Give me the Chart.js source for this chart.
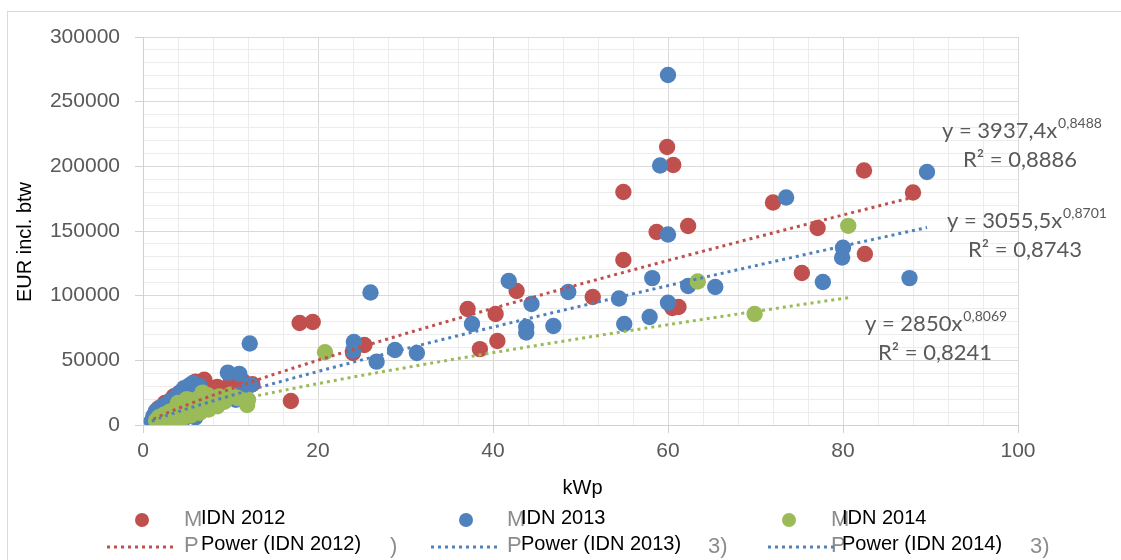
<!DOCTYPE html>
<html>
<head>
<meta charset="utf-8">
<script src="https://cdn.jsdelivr.net/npm/chart.js@4.4.1/dist/chart.umd.min.js"></script>
<style>
  html, body { margin: 0; padding: 0; background: #ffffff; }
  #wrap { width: 1121px; height: 560px; }
</style>
</head>
<body>
<div id="wrap"><canvas id="c" width="1121" height="560"></canvas></div>
<script>
// Installation price (EUR incl. btw) against installed power (kWp)
const seriesNames = ['IDN 2012', 'IDN 2013', 'IDN 2014'];
const trendNames = ['Power (IDN 2012)', 'Power (IDN 2013)', 'Power (IDN 2014)'];
const seriesColors = ['#C0504D', '#4F81BD', '#9BBB59'];

const idn2012Kwp = [1.2, 1.4, 1.7, 1.8, 2.0, 2.2, 2.4, 2.5, 2.6, 2.7, 3.0, 3.3, 3.5, 3.6, 3.9, 4.2, 4.3, 4.5, 4.8, 5.0, 5.1, 5.5, 5.9, 6.0, 6.3, 6.8, 7.0, 7.2, 7.8, 8.5, 9.3, 10.0, 10.4, 11.4, 12.5,
  16.9, 17.9, 19.4, 24.0, 25.3, 37.1, 38.5, 40.3, 40.5, 42.7, 51.4, 54.9, 54.9, 58.7, 59.9, 60.6, 60.5, 61.2, 62.3, 72.0, 75.3, 77.1, 82.4, 82.5, 88.0];
const idn2012Eur = [5000, 8500, 6000, 13000, 10500, 3000, 12500, 17000, 1500, 9000, 15500, 11500, 22000, 18000, 14000, 21000, 25500, 17000, 23500, 29000, 19500, 26000, 22000, 33500, 28500, 24500, 35000, 31000, 27000, 29500, 25500, 33000, 30500, 34000, 31500,
  18500, 78900, 79600, 55700, 61900, 89700, 58700, 85800, 65000, 103600, 99000, 180200, 127600, 149200, 215000, 201000, 90500, 91200, 153900, 172000, 117500, 152300, 196800, 132200, 179800];

const idn2013Kwp = [1.0, 1.2, 1.5, 1.5, 1.8, 2.1, 2.2, 2.5, 2.8, 3.0, 3.0, 3.1, 3.4, 3.8, 4.0, 4.1, 4.4, 4.5, 4.7, 4.8, 5.2, 5.3, 5.5, 5.7, 5.8, 6.0, 6.2, 6.5, 6.6, 7.2, 7.8, 8.6, 9.7, 11.0, 10.6, 11.5, 12.3,
  12.2, 24.1, 24.0, 26.0, 26.7, 28.8, 31.3, 37.6, 41.8, 43.8, 43.8, 44.4, 46.9, 48.6, 54.4, 55.0, 57.9, 58.2, 59.1, 60.0, 60.0, 60.0, 62.3, 65.4, 73.5, 77.7, 79.9, 80.0, 87.6, 89.6];
const idn2013Eur = [3000, 7000, 4500, 11000, 9000, 6500, 14500, 11000, 8000, 13500, 1500, 19000, 10000, 16000, 24000, 12500, 19500, 3500, 28500, 15000, 22000, 30500, 27500, 32500, 18500, 6000, 24500, 30000, 20000, 16500, 21500, 18000, 40500, 39500, 19500, 26000, 31000,
  63000, 64200, 57500, 102500, 49000, 58000, 55700, 78100, 111300, 75800, 71500, 93600, 76500, 102800, 97800, 78100, 83500, 113600, 200600, 270600, 147300, 94500, 107500, 106700, 175900, 110600, 129500, 137000, 113600, 195600];

const idn2014Kwp = [1.5, 1.8, 2.1, 2.4, 2.5, 2.7, 3.0, 3.3, 3.5, 3.6, 3.9, 4.0, 4.2, 4.5, 4.5, 4.8, 5.0, 5.2, 5.5, 5.6, 6.0, 6.4, 6.5, 6.8, 6.9, 7.4, 7.5, 8.0, 8.5, 8.7, 9.3, 10.0, 10.8, 11.9, 12.0,
  20.8, 63.4, 69.9, 80.6];
const idn2014Eur = [3500, 6000, 4500, 8000, 1500, 5500, 10000, 7000, 3000, 12000, 9000, 17000, 14000, 11000, 5000, 16500, 20000, 13000, 7500, 19000, 15000, 21000, 9500, 25000, 17000, 23000, 12000, 19000, 14500, 22000, 18000, 23500, 21000, 15500, 19500,
  56200, 111000, 85800, 154000];

// Power trendlines y = a·x^b with their stated R²
const trendA = [3937.4, 3055.5, 2850];
const trendB = [0.8488, 0.8701, 0.8069];
const trendR2 = [0.8886, 0.8743, 0.8241];

const xTickLabels = [0, 20, 40, 60, 80, 100];
const yTickLabels = [0, 50000, 100000, 150000, 200000, 250000, 300000];

const kwpSeries = [idn2012Kwp, idn2013Kwp, idn2014Kwp];
const eurSeries = [idn2012Eur, idn2013Eur, idn2014Eur];

function toPoints(xs, ys) { return xs.map((x, i) => ({ x: x, y: ys[i] })); }

function powerCurve(k) {
  const xs = kwpSeries[k];
  const lo = Math.min(...xs), hi = Math.max(...xs);
  const pts = [];
  const n = 120;
  for (let i = 0; i <= n; i++) {
    const x = lo + (hi - lo) * i / n;
    pts.push({ x: x, y: trendA[k] * Math.pow(x, trendB[k]) });
  }
  return pts;
}

function comma(v) { return String(v).replace('.', ','); }

const datasets = [];
for (let k = 0; k < 3; k++) {
  datasets.push({
    type: 'scatter',
    label: seriesNames[k],
    data: toPoints(kwpSeries[k], eurSeries[k]),
    backgroundColor: seriesColors[k],
    borderColor: seriesColors[k],
    borderWidth: 0,
    pointRadius: 8.2,
    pointHoverRadius: 8.2,
    order: 6 - k
  });
}
for (let k = 0; k < 3; k++) {
  datasets.push({
    type: 'line',
    label: trendNames[k],
    data: powerCurve(k),
    borderColor: seriesColors[k],
    borderWidth: 3,
    borderDash: [3, 4],
    pointRadius: 0,
    fill: false,
    tension: 0,
    order: 3 - k
  });
}

const FONT = '"Liberation Sans", Arial, sans-serif';
const EQFONT = 'Lato, "Open Sans", sans-serif';

const decorations = {
  id: 'decorations',
  beforeDraw(chart) {
    const c = chart.ctx;
    c.save();
    c.fillStyle = '#ffffff';
    c.fillRect(0, 0, chart.width, chart.height);
    c.strokeStyle = '#d9d9d9';
    c.lineWidth = 1;
    c.strokeRect(7.5, 11.5, 1130, 570);
    c.restore();
  },
  afterDraw(chart) {
    const c = chart.ctx;
    const area = chart.chartArea;
    c.save();

    // axis titles
    c.fillStyle = '#000000';
    c.font = '20px ' + FONT;
    c.textAlign = 'center';
    c.textBaseline = 'middle';
    c.fillText('kWp', (area.left + area.right) / 2 + 2, 488);
    c.save();
    c.translate(25, 242);
    c.rotate(-Math.PI / 2);
    c.fillText('EUR incl. btw', 0, 0);
    c.restore();

    // trendline equations
    const eqPos = [[942, 131, 963, 160], [947, 221, 968, 250], [865, 324, 878, 353]];
    c.fillStyle = '#595959';
    c.textAlign = 'left';
    for (let k = 0; k < 3; k++) {
      const p = eqPos[k];
      c.font = '22px ' + EQFONT;
      const main = 'y = ' + comma(trendA[k]) + 'x';
      c.fillText(main, p[0], p[1]);
      const w = c.measureText(main).width;
      c.font = '14px ' + EQFONT;
      c.fillText(comma(trendB[k]), p[0] + w + 1, p[1] - 8);
      c.font = '22px ' + EQFONT;
      c.fillText('R\u00B2 = ' + comma(trendR2[k]), p[2], p[3]);
    }

    // legend
    const cols = [
      { dot: 142, ghost: 184, text: 201, line0: 107, line1: 173, tail: 390, tailText: ')' },
      { dot: 466, ghost: 507, text: 521, line0: 431, line1: 497, tail: 708, tailText: '3)' },
      { dot: 789, ghost: 831, text: 842, line0: 768, line1: 836, tail: 1030, tailText: '3)' }
    ];
    const legendLineColors = [seriesColors[0], seriesColors[1], seriesColors[1]];
    const row1 = 518, row2 = 544;
    for (let k = 0; k < 3; k++) {
      const col = cols[k];
      // partly hidden glyphs behind the labels
      c.fillStyle = '#8c8c8c';
      c.font = '22px ' + FONT;
      c.textAlign = 'left';
      c.fillText('M', col.ghost, row1 + 2);
      c.fillText('P', col.ghost, row2 + 2);
      c.fillText(col.tailText, col.tail, row2 + 3);

      c.fillStyle = seriesColors[k];
      c.beginPath();
      c.arc(col.dot, row1 + 2, 7, 0, Math.PI * 2);
      c.fill();

      c.strokeStyle = legendLineColors[k];
      c.lineWidth = 3;
      c.setLineDash([3, 4]);
      c.beginPath();
      c.moveTo(col.line0, row2 + 3);
      c.lineTo(col.line1, row2 + 3);
      c.stroke();
      c.setLineDash([]);

      c.font = '20px ' + FONT;
      c.fillStyle = '#000000';
      c.fillText(seriesNames[k], col.text, row1);
      c.fillText(trendNames[k], col.text, row2);
    }
    c.restore();
  }
};

const isMajorX = v => xTickLabels.includes(v);
const isMajorY = v => yTickLabels.includes(v);

new Chart(document.getElementById('c'), {
  data: { datasets: datasets },
  options: {
    responsive: false,
    animation: false,
    events: [],
    layout: { padding: { left: 0, top: 37, right: 103, bottom: 0 } },
    plugins: { legend: { display: false }, tooltip: { enabled: false } },
    scales: {
      x: {
        type: 'linear',
        min: 0, max: 100,
        afterFit: s => { s.height = 135; },
        ticks: {
          stepSize: 4,
          autoSkip: false,
          maxRotation: 0,
          padding: 6,
          color: '#595959',
          font: { family: FONT, size: 21 },
          callback: v => isMajorX(v) ? String(v) : ''
        },
        grid: {
          color: ctx => (ctx.tick && isMajorX(ctx.tick.value)) ? '#d9d9d9' : '#ececec',
          tickColor: ctx => (ctx.tick && isMajorX(ctx.tick.value)) ? '#d0d0d0' : 'rgba(0,0,0,0)',
          tickLength: 8,
          lineWidth: 1
        },
        border: { color: '#d0d0d0', width: 1 }
      },
      y: {
        type: 'linear',
        min: 0, max: 300000,
        afterFit: s => { s.width = 143; },
        ticks: {
          stepSize: 10000,
          autoSkip: false,
          padding: 15,
          color: '#595959',
          font: { family: FONT, size: 21 },
          callback: v => isMajorY(v) ? String(v) : ''
        },
        grid: {
          color: ctx => (ctx.tick && isMajorY(ctx.tick.value)) ? '#d9d9d9' : '#ececec',
          tickColor: ctx => (ctx.tick && isMajorY(ctx.tick.value)) ? '#d0d0d0' : 'rgba(0,0,0,0)',
          tickLength: 8,
          lineWidth: 1
        },
        border: { color: '#d0d0d0', width: 1 }
      }
    }
  },
  plugins: [decorations]
});
</script>
</body>
</html>
